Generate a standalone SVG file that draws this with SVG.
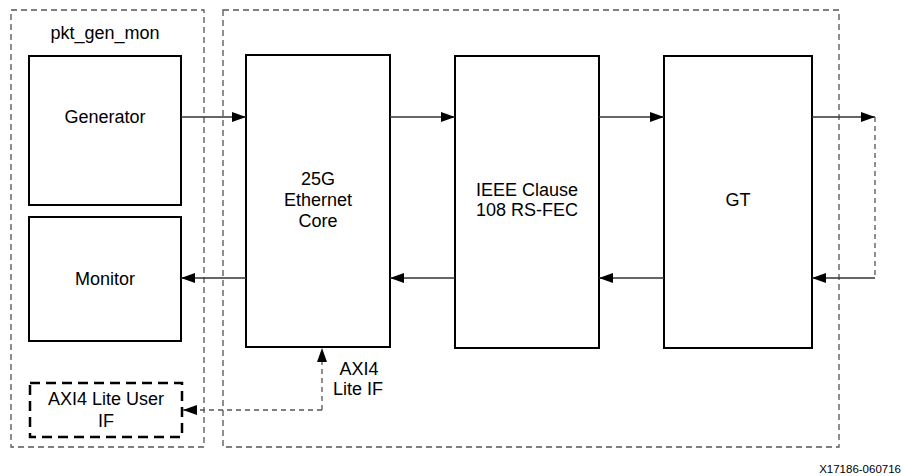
<svg xmlns="http://www.w3.org/2000/svg" width="903" height="476" viewBox="0 0 903 476">
<style>
.grp{fill:none;stroke:#555;stroke-width:1.3;stroke-dasharray:6,4}
.blk{fill:#fff;stroke:#000;stroke-width:2}
.dblk{fill:#fff;stroke:#000;stroke-width:2.5;stroke-dasharray:10,6}
.t{font-family:"Liberation Sans",Arial,sans-serif;font-size:18px;fill:#000;text-anchor:middle}
.ln{fill:none;stroke:#333;stroke-width:1.3}
.dl{fill:none;stroke:#555;stroke-width:1.3;stroke-dasharray:5,4}
</style>
<defs>
<marker id="ah" markerWidth="14" markerHeight="10" refX="14" refY="5" orient="auto" markerUnits="userSpaceOnUse">
<path d="M0,0 L14,5 L0,10 Z" fill="#000"/>
</marker>
</defs>
<g id="pkt_gen_mon">
<rect class="grp" x="11" y="10" width="193" height="437"/>
<text class="t" x="105" y="39">pkt_gen_mon</text>
</g>
<g id="core_group">
<rect class="grp" x="223" y="10" width="616" height="437"/>
</g>
<g id="generator">
<rect class="blk" x="29" y="56" width="152" height="149"/>
<text class="t" x="105" y="123">Generator</text>
</g>
<g id="monitor">
<rect class="blk" x="29" y="217" width="152" height="124"/>
<text class="t" x="105" y="285">Monitor</text>
</g>
<g id="axi_user">
<rect class="dblk" x="30" y="383" width="152" height="54"/>
<text class="t" x="106" y="405">AXI4 Lite User</text>
<text class="t" x="106" y="427">IF</text>
</g>
<g id="ethernet">
<rect class="blk" x="246" y="55" width="144" height="292"/>
<text class="t" x="318" y="185">25G</text>
<text class="t" x="318" y="206">Ethernet</text>
<text class="t" x="318" y="227">Core</text>
</g>
<g id="rsfec">
<rect class="blk" x="455" y="56" width="144" height="292"/>
<text class="t" x="527" y="196">IEEE Clause</text>
<text class="t" x="527" y="216">108 RS-FEC</text>
</g>
<g id="gt">
<rect class="blk" x="664" y="56" width="148" height="292"/>
<text class="t" x="738" y="206">GT</text>
</g>
<g id="axi_label">
<text class="t" x="359" y="375">AXI4</text>
<text class="t" x="358" y="395">Lite IF</text>
</g>
<g id="connectors">
<line class="ln" x1="181" y1="117" x2="246" y2="117" marker-end="url(#ah)"/>
<line class="ln" x1="390" y1="117" x2="455" y2="117" marker-end="url(#ah)"/>
<line class="ln" x1="599" y1="117" x2="664" y2="117" marker-end="url(#ah)"/>
<line class="ln" x1="812" y1="117" x2="875" y2="117" marker-end="url(#ah)"/>
<line class="dl" x1="875" y1="117" x2="875" y2="278"/>
<line class="ln" x1="875" y1="278" x2="812" y2="278" marker-end="url(#ah)"/>
<line class="ln" x1="664" y1="278" x2="599" y2="278" marker-end="url(#ah)"/>
<line class="ln" x1="455" y1="278" x2="390" y2="278" marker-end="url(#ah)"/>
<line class="ln" x1="246" y1="278" x2="181" y2="278" marker-end="url(#ah)"/>
<path class="dl" d="M322,410 L322,348" marker-end="url(#ah)"/>
<path class="dl" d="M322,410 L183,410" marker-end="url(#ah)"/>
</g>
<text x="901" y="473" font-family="Liberation Sans, Arial, sans-serif" font-size="11.5" text-anchor="end" fill="#000">X17186-060716</text>
</svg>
